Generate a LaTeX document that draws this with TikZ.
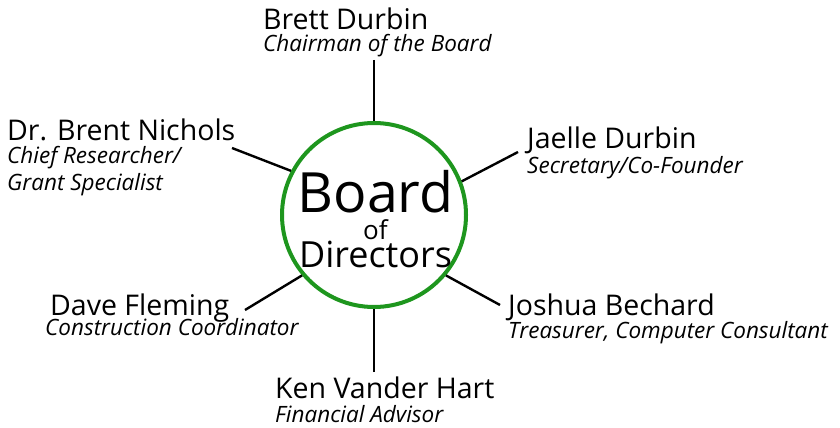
\documentclass[tikz,border=0pt]{standalone}
\usepackage{fontspec}
\setmainfont{Open Sans}
\definecolor{boardgreen}{RGB}{30,150,30}
\tikzset{
  namebox/.style={anchor=base west, inner sep=0pt, font=\fontsize{28.5}{32}\selectfont},
  rolebox/.style={anchor=base west, inner sep=0pt, font=\fontsize{22.5}{27}\selectfont\itshape},
  link/.style={line width=2.4pt, black},
}
\begin{document}
\begin{tikzpicture}[x=1pt,y=-1pt]
\useasboundingbox (0,0) rectangle (840,428);
\node[draw=boardgreen, line width=4pt, circle, minimum size=184pt, inner sep=0pt] (board) at (374,215) {};
\node[anchor=base, inner sep=0pt, align=center, font=\fontsize{30}{27.5}\selectfont] (boardT) at (375.5,267)
  {{\fontsize{55.5}{27.5}\selectfont Board}\\{\fontsize{26}{27.5}\selectfont of}\\{\fontsize{36}{27.5}\selectfont Directors}};

% Brett Durbin
\node[namebox] (brett) at (263,30) {Brett Durbin};
\node[rolebox] (brettR) at (263,52) {Chairman of the Board};
\coordinate (brettE) at (374,60);
\draw[link] (brettE) -- (board.north);

% Brent Nichols
\node[namebox] (brent) at (7,140) {Dr. Brent Nichols};
\node[rolebox] (brentR) at (7,163) {Chief Researcher/};
\node[rolebox] (brentR2) at (7,190) {Grant Specialist};
\coordinate (brentE) at (232,148);
\draw[link] (brentE) -- (board.152);

% Jaelle Durbin
\node[namebox] (jaelle) at (527,148) {Jaelle Durbin};
\node[rolebox] (jaelleR) at (527,173) {Secretary/Co-Founder};
\coordinate (jaelleE) at (518,152);
\draw[link] (jaelleE) -- (board.21);

% Dave Fleming
\node[namebox] (dave) at (50,315) {Dave Fleming};
\node[rolebox] (daveR) at (45,335) {Construction Coordinator};
\coordinate (daveE) at (245,310);
\draw[link] (daveE) -- (board.220);

% Joshua Bechard
\node[namebox] (joshua) at (508,315) {Joshua Bechard};
\node[rolebox] (joshuaR) at (508,338) {Treasurer, Computer Consultant};
\coordinate (joshuaE) at (500,305);
\draw[link] (joshuaE) -- (board.320);

% Ken Vander Hart
\node[namebox] (ken) at (275,398) {Ken Vander Hart};
\node[rolebox] (kenR) at (275,422) {Financial Advisor};
\coordinate (kenE) at (374,372);
\draw[link] (kenE) -- (board.south);
\end{tikzpicture}
\end{document}
